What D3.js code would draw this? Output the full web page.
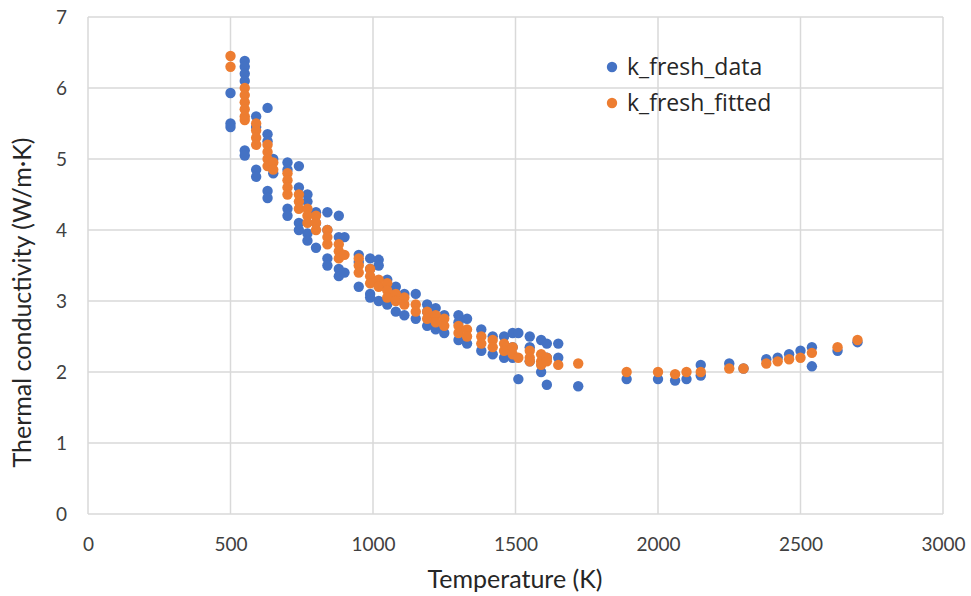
<!DOCTYPE html>
<html>
<head>
<meta charset="utf-8">
<script src="https://cdn.jsdelivr.net/npm/d3@7"></script>
<style>
  html, body { margin: 0; padding: 0; background: #fff; }
  svg { display: block; }
</style>
</head>
<body>
<svg id="chart" width="971" height="596"></svg>
<script>
// ---- data ----
const freshDataT = [
  500,500,500,
  550,550,550,550,550,550,
  590,590,590,590,
  630,630,630,630,630,
  650,650,
  700,700,700,700,
  740,740,740,740,
  770,770,770,770,
  800,800,800,
  840,840,840,840,
  880,880,880,880,
  900,900,
  950,950,950,
  990,990,990,990,
  1020,1020,1020,
  1050,1050,1050,
  1080,1080,1080,
  1110,1110,
  1150,1150,
  1190,1190,1190,
  1220,1220,
  1250,1250,
  1300,1300,1300,
  1330,1330,
  1380,1380,
  1420,1420,
  1460,1460,
  1490,1490,1490,
  1510,1510,
  1550,1550,1550,
  1590,1590,
  1610,1610,1610,
  1650,1650,
  1720,1890,2000,2060,2100,2150,2150,2250,2300,2380,2420,2460,2500,2540,2540,2630,2700
];
const freshDataK = [
  5.93,5.50,5.45,
  6.38,6.30,6.20,6.10,5.12,5.05,
  5.60,5.45,4.85,4.75,
  5.72,5.35,5.25,4.55,4.45,
  5.00,4.80,
  4.95,4.85,4.30,4.20,
  4.90,4.60,4.10,4.00,
  4.50,4.40,3.95,3.85,
  4.25,4.10,3.75,
  4.25,4.00,3.60,3.50,
  4.20,3.90,3.45,3.35,
  3.90,3.40,
  3.65,3.55,3.20,
  3.60,3.45,3.10,3.05,
  3.58,3.50,3.00,
  3.30,3.20,2.95,
  3.20,3.10,2.85,
  3.10,2.80,
  3.10,2.75,
  2.95,2.85,2.65,
  2.90,2.60,
  2.80,2.55,
  2.80,2.70,2.45,
  2.75,2.40,
  2.60,2.30,
  2.50,2.25,
  2.50,2.20,
  2.55,2.35,2.20,
  2.55,1.90,
  2.50,2.35,2.15,
  2.45,2.00,
  2.40,2.20,1.82,
  2.40,2.20,
  1.80,1.90,1.90,1.88,1.90,2.10,1.95,2.12,2.05,2.18,2.20,2.25,2.30,2.35,2.08,2.30,2.42
];
const fittedT = [
  500,500,
  550,550,550,550,550,550,
  590,590,590,590,
  630,630,630,630,
  650,650,
  700,700,700,700,
  740,740,740,
  770,770,770,
  800,800,800,
  840,840,840,
  880,880,880,
  900,
  950,950,950,
  990,990,990,
  1020,1020,
  1050,1050,1050,
  1080,1080,
  1110,1110,
  1150,1150,
  1190,1190,
  1220,1220,
  1250,1250,
  1300,1300,
  1330,1330,
  1380,1380,
  1420,1420,
  1460,1460,
  1490,1490,
  1510,
  1550,1550,1550,
  1590,1590,1590,
  1610,1610,
  1650,
  1720,1890,2000,2060,2100,2150,2250,2300,2380,2420,2460,2500,2540,2630,2700
];
const fittedK = [
  6.45,6.30,
  6.00,5.90,5.80,5.70,5.60,5.55,
  5.50,5.40,5.30,5.20,
  5.20,5.10,5.00,4.90,
  4.95,4.85,
  4.80,4.70,4.60,4.50,
  4.50,4.40,4.30,
  4.30,4.20,4.10,
  4.20,4.10,4.00,
  4.00,3.90,3.80,
  3.80,3.70,3.60,
  3.65,
  3.60,3.50,3.40,
  3.45,3.35,3.25,
  3.30,3.20,
  3.25,3.15,3.05,
  3.10,3.00,
  3.05,2.95,
  2.95,2.85,
  2.85,2.75,
  2.80,2.70,
  2.75,2.65,
  2.65,2.55,
  2.60,2.50,
  2.50,2.40,
  2.45,2.35,
  2.40,2.30,
  2.35,2.25,
  2.20,
  2.30,2.20,2.15,
  2.25,2.15,2.10,
  2.20,2.15,
  2.10,
  2.12,2.00,2.00,1.97,2.00,2.00,2.05,2.05,2.12,2.15,2.18,2.20,2.27,2.35,2.45
];
const xTicks = [0, 500, 1000, 1500, 2000, 2500, 3000];
const yTicks = [0, 1, 2, 3, 4, 5, 6, 7];
const seriesNames = ["k_fresh_data", "k_fresh_fitted"];
const seriesColors = ["#4472C4", "#ED7D31"];

// ---- drawing ----
(function () {
const svg = d3.select("#chart");
const pLeft = 88, pRight = 943, pTop = 17, pBottom = 514;

const x = d3.scaleLinear().domain([0, 3000]).range([pLeft, pRight]);
const y = d3.scaleLinear().domain([0, 7]).range([pBottom, pTop]);

const tickFont = "Lato, 'Open Sans', sans-serif";

// gridlines
svg.append("g").selectAll("line").data(yTicks).join("line")
  .attr("x1", pLeft).attr("x2", pRight)
  .attr("y1", d => y(d)).attr("y2", d => y(d))
  .attr("stroke", "#d9d9d9").attr("stroke-width", 1.5);
svg.append("g").selectAll("line").data(xTicks).join("line")
  .attr("y1", pTop).attr("y2", pBottom)
  .attr("x1", d => x(d)).attr("x2", d => x(d))
  .attr("stroke", "#d9d9d9").attr("stroke-width", 1.5);

// axes (labels only, via d3 axis)
const xAxis = svg.append("g").attr("transform", `translate(0,${pBottom})`)
  .call(d3.axisBottom(x).tickValues(xTicks).tickFormat(d3.format("d")).tickSize(0).tickPadding(24));
xAxis.select(".domain").remove();
xAxis.selectAll("text").attr("font-family", tickFont).attr("font-size", 19).attr("fill", "#404040");

const yAxis = svg.append("g").attr("transform", `translate(${pLeft},0)`)
  .call(d3.axisLeft(y).tickValues(yTicks).tickFormat(d3.format("d")).tickSize(0).tickPadding(21));
yAxis.select(".domain").remove();
yAxis.selectAll("text").attr("font-family", tickFont).attr("font-size", 19).attr("fill", "#404040");

// axis titles
svg.append("text")
  .attr("x", 515).attr("y", 588)
  .attr("text-anchor", "middle")
  .attr("font-family", tickFont).attr("font-size", 25).attr("fill", "#262626")
  .text("Temperature (K)");
svg.append("text")
  .attr("transform", `translate(31,${(pTop + pBottom) / 2 + 37}) rotate(-90)`)
  .attr("text-anchor", "middle")
  .attr("font-family", tickFont).attr("font-size", 25).attr("fill", "#262626")
  .text("Thermal conductivity (W/m·K)");

// points
const r = 5.2;
const blue = freshDataT.map((t, i) => ({ t, k: freshDataK[i] }));
const orange = fittedT.map((t, i) => ({ t, k: fittedK[i] }));
svg.append("g").selectAll("circle").data(blue).join("circle")
  .attr("cx", d => x(d.t)).attr("cy", d => y(d.k)).attr("r", r)
  .attr("fill", seriesColors[0]);
svg.append("g").selectAll("circle").data(orange).join("circle")
  .attr("cx", d => x(d.t)).attr("cy", d => y(d.k)).attr("r", r)
  .attr("fill", seriesColors[1]);

// legend
const legend = svg.append("g");
seriesNames.forEach((name, i) => {
  const ly = 67 + i * 36;
  legend.append("circle").attr("cx", 612).attr("cy", ly).attr("r", 5.2).attr("fill", seriesColors[i]);
  legend.append("text").attr("x", 627).attr("y", ly + 8)
    .attr("font-family", "'Open Sans', sans-serif").attr("font-size", 23).attr("fill", "#262626")
    .text(name);
});
})();
</script>
</body>
</html>
